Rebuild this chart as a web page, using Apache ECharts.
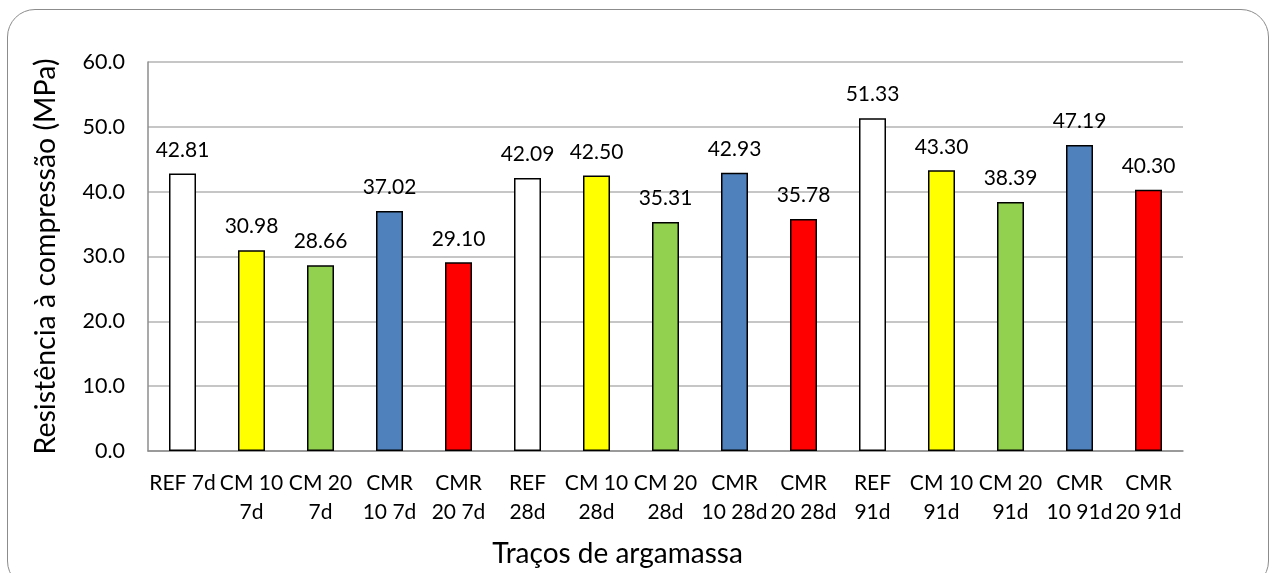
<!DOCTYPE html>
<html>
<head>
<meta charset="utf-8">
<script src="https://cdn.jsdelivr.net/npm/echarts@6/dist/echarts.min.js"></script>
<style>
  html, body { margin: 0; padding: 0; background: #fff; }
  #frame {
    position: absolute; left: 7px; top: 9px; width: 1262px; height: 580px;
    border: 1.5px solid #8c8c8c; border-radius: 28px; box-sizing: border-box;
  }
  #chart { position: absolute; left: 0; top: 0; width: 1273px; height: 573px; }
</style>
</head>
<body>
<div id="frame"></div>
<div id="chart"></div>
<script>
// traços
var categorias = ['REF 7d', 'CM 10\n7d', 'CM 20\n7d', 'CMR\n10 7d', 'CMR\n20 7d',
  'REF\n28d', 'CM 10\n28d', 'CM 20\n28d', 'CMR\n10 28d', 'CMR\n20 28d',
  'REF\n91d', 'CM 10\n91d', 'CM 20\n91d', 'CMR\n10 91d', 'CMR\n20 91d'];
var resistencia = [42.81, 30.98, 28.66, 37.02, 29.10,
  42.09, 42.50, 35.31, 42.93, 35.78,
  51.33, 43.30, 38.39, 47.19, 40.30];
var cores = ['#ffffff', '#ffff00', '#92d050', '#4f81bd', '#ff0000'];

var fonte = 'Lato, "Open Sans", sans-serif';

var dados = resistencia.map(function (v, i) {
  return {value: v, itemStyle: {color: cores[i % 5]}};
});

var option = {
  animation: false,
  textStyle: {fontFamily: fonte},
  grid: {left: 148, right: 90, top: 62, bottom: 122},
  xAxis: {
    type: 'category',
    data: categorias,
    name: 'Traços de argamassa',
    nameLocation: 'middle',
    nameGap: 89,
    nameTextStyle: {fontSize: 28, color: '#000', fontFamily: fonte, padding: [0, 96, 0, 0]},
    axisLine: {lineStyle: {color: '#8c8c8c', width: 1.5}},
    axisTick: {show: false},
    axisLabel: {
      interval: 0, fontSize: 21, color: '#000', margin: 18,
      lineHeight: 29, fontFamily: fonte
    }
  },
  yAxis: {
    type: 'value',
    min: 0, max: 60, interval: 10,
    name: 'Resistência à compressão (MPa)',
    nameLocation: 'middle',
    nameGap: 88,
    nameTextStyle: {fontSize: 28.5, color: '#000', fontFamily: fonte},
    axisLine: {show: true, lineStyle: {color: '#8c8c8c', width: 1.5}},
    axisTick: {show: false},
    axisLabel: {
      fontSize: 21.5, color: '#000', margin: 23, fontFamily: fonte,
      formatter: function (v) { return v.toFixed(1); }
    },
    splitLine: {lineStyle: {color: '#b3b3b3', width: 1.5}}
  },
  series: [{
    type: 'bar',
    data: dados,
    barWidth: 27,
    itemStyle: {borderColor: '#000', borderWidth: 1.5},
    label: {
      show: true, position: 'top', distance: 13,
      fontSize: 21, color: '#000', fontFamily: fonte,
      formatter: function (p) { return p.value.toFixed(2); }
    }
  }]
};

var grafico = echarts.init(document.getElementById('chart'));
grafico.setOption(option);
</script>
</body>
</html>
